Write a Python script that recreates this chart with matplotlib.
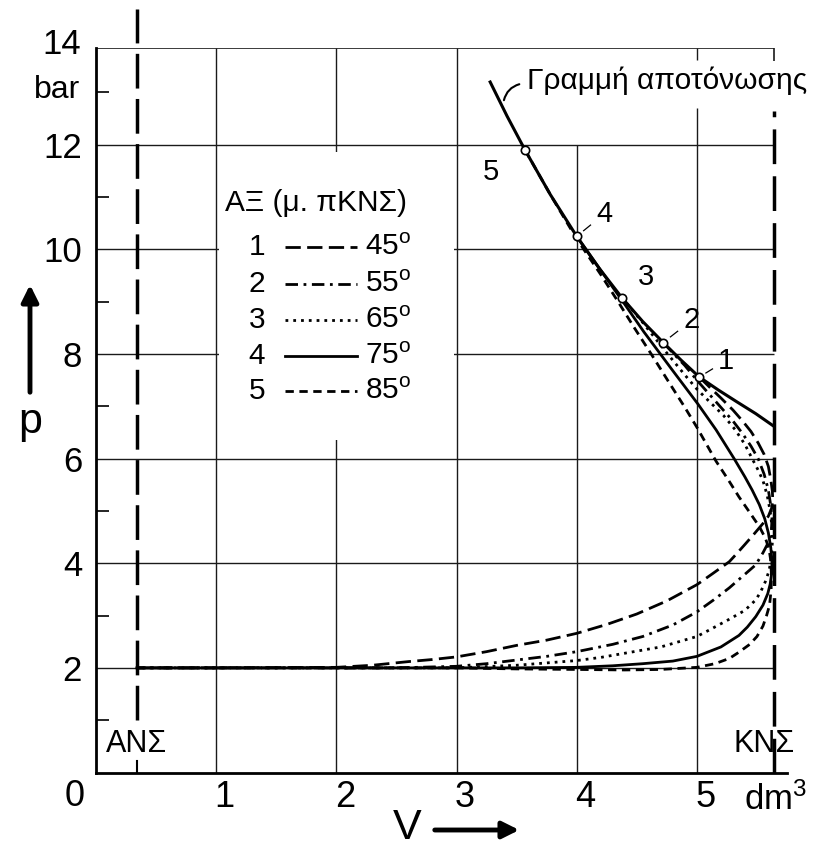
import matplotlib
matplotlib.use('Agg')
import matplotlib.pyplot as plt
from matplotlib.patches import Rectangle

plt.rcParams['font.family'] = ['Liberation Sans', 'DejaVu Sans']
plt.rcParams['mathtext.fontset'] = 'custom'
plt.rcParams['mathtext.rm'] = 'Liberation Sans'
plt.rcParams['mathtext.it'] = 'Liberation Sans'

# ---------------- data ----------------
x_ticks = [1, 2, 3, 4, 5]
x_labels = ['1', '2', '3', '4', '5']
y_ticks = [2, 4, 6, 8, 10, 12]
y_labels = ['2', '4', '6', '8', '10', '12']
y_minor = [1, 3, 5, 7, 9, 11, 13]
V_ANS = 0.34
V_KNS = 5.645
P_TOP = 13.85

angles = ['45', '55', '65', '75', '85']
curve_ids = ['1', '2', '3', '4', '5']

# expansion line (Γραμμή αποτόνωσης)
exp_V = [3.28, 3.42, 3.57, 3.78, 4.0, 4.19, 4.375, 4.55, 4.72, 4.87, 5.02, 5.18, 5.33, 5.49, 5.64]
exp_p = [13.2, 12.55, 11.9, 11.05, 10.25, 9.63, 9.08, 8.62, 8.22, 7.88, 7.56, 7.31, 7.09, 6.86, 6.62]

# exhaust-opening points on the expansion line (1..5)
open_V = [5.02, 4.72, 4.375, 4.0, 3.57]
open_p = [7.56, 8.22, 9.08, 10.25, 11.9]

# curve 1 : 45°
c1_V = [5.02, 5.1, 5.2, 5.3, 5.38, 5.45, 5.51, 5.56, 5.595, 5.615, 5.628, 5.632, 5.622, 5.595,
        5.55, 5.48, 5.4, 5.33, 5.27, 5.13, 5.0, 4.75, 4.5, 4.25, 4.0, 3.75, 3.5, 3.25, 3.0,
        2.8, 2.6, 2.3, 2.0, 1.0, 0.34]
c1_p = [7.56, 7.38, 7.16, 6.93, 6.72, 6.52, 6.3, 6.08, 5.85, 5.6, 5.38, 5.2, 5.05, 4.9,
        4.76, 4.57, 4.36, 4.18, 4.03, 3.8, 3.59, 3.28, 3.03, 2.83, 2.66, 2.53, 2.43, 2.31, 2.21,
        2.16, 2.12, 2.05, 2.01, 2.0, 2.0]
# curve 2 : 55°
c2_V = [4.72, 4.8, 4.9, 5.0, 5.1, 5.2, 5.3, 5.38, 5.45, 5.51, 5.56, 5.595, 5.615, 5.625,
        5.62, 5.6, 5.55, 5.49, 5.38, 5.27, 5.14, 5.0, 4.8, 4.55, 4.3, 4.0, 3.75, 3.5, 3.25,
        3.0, 2.5, 2.0, 1.0, 0.34]
c2_p = [8.22, 8.02, 7.78, 7.5, 7.24, 6.98, 6.72, 6.48, 6.24, 6.0, 5.7, 5.4, 5.1, 4.85,
        4.62, 4.42, 4.2, 3.97, 3.75, 3.53, 3.3, 3.07, 2.82, 2.6, 2.45, 2.31, 2.22, 2.15, 2.08,
        2.03, 2.0, 2.0, 2.0, 2.0]
# curve 3 : 65°
c3_V = [4.375, 4.55, 4.75, 4.9, 5.0, 5.1, 5.22, 5.32, 5.4, 5.46, 5.51, 5.55, 5.585, 5.61,
        5.625, 5.628, 5.62, 5.6, 5.57, 5.53, 5.49, 5.4, 5.27, 5.1, 5.0, 4.7, 4.45, 4.2, 4.0,
        3.5, 3.0, 2.0, 1.0, 0.34]
c3_p = [9.08, 8.6, 8.02, 7.6, 7.33, 7.1, 6.83, 6.55, 6.27, 6.0, 5.78, 5.58, 5.3, 5.0,
        4.7, 4.4, 4.1, 3.85, 3.65, 3.45, 3.3, 3.1, 2.93, 2.72, 2.6, 2.4, 2.3, 2.2, 2.14,
        2.05, 2.0, 2.0, 2.0, 2.0]
# curve 4 : 75°
c4_V = [4.0, 4.2, 4.4, 4.56, 4.8, 5.01, 5.16, 5.31, 5.4, 5.46, 5.52, 5.565, 5.595, 5.615,
        5.625, 5.622, 5.61, 5.59, 5.55, 5.49, 5.42, 5.35, 5.2, 5.0, 4.8, 4.55, 4.3, 4.0, 3.5,
        3.0, 2.0, 1.0, 0.34]
c4_p = [10.25, 9.6, 8.95, 8.42, 7.68, 7.04, 6.55, 6.0, 5.65, 5.4, 5.12, 4.85, 4.58, 4.3,
        4.05, 3.8, 3.6, 3.42, 3.2, 2.98, 2.78, 2.62, 2.4, 2.22, 2.13, 2.08, 2.04, 2.01, 2.0,
        2.0, 2.0, 2.0, 2.0]
# curve 5 : 85°
c5_V = [3.57, 3.78, 4.0, 4.2, 4.35, 4.48, 4.62, 4.77, 4.9, 5.0, 5.16, 5.26, 5.35, 5.44,
        5.52, 5.57, 5.6, 5.615, 5.62, 5.618, 5.605, 5.58, 5.55, 5.5, 5.44, 5.35, 5.27, 5.15,
        5.0, 4.7, 4.4, 4.0, 3.5, 3.0, 2.0, 1.0, 0.34]
c5_p = [11.9, 11.05, 10.2, 9.52, 8.98, 8.5, 8.0, 7.45, 6.98, 6.6, 5.95, 5.6, 5.27, 4.97,
        4.7, 4.48, 4.28, 4.05, 3.8, 3.5, 3.2, 3.0, 2.8, 2.6, 2.45, 2.3, 2.18, 2.08,
        2.01, 1.97, 1.96, 1.97, 1.98, 2.0, 2.0, 2.0, 2.0]

# label positions of curve numbers near the opening points
lab_V = [5.24, 4.96, 4.58, 4.23, 3.29]
lab_p = [7.87, 8.65, 9.47, 10.68, 11.48]

# ---------------- figure ----------------
W, H = 827, 849
fig = plt.figure(figsize=(W / 100, H / 100), dpi=100)
x0, x1, y0, y1 = 96, 787, 772.5, 48
ax = fig.add_axes([x0 / W, (H - y0) / H, (x1 - x0) / W, (y0 - y1) / H])
ax.set_xlim(0, 5.75)
ax.set_ylim(0, P_TOP)

for s in ['top', 'right']:
    ax.spines[s].set_visible(False)
for s in ['left', 'bottom']:
    ax.spines[s].set_linewidth(2.0)

ax.set_xticks([])
ax.set_yticks(y_ticks, y_labels, fontsize=25)
ax.set_yticks(y_minor, minor=True)
ax.tick_params(axis='y', which='major', length=0, pad=10)
ax.tick_params(axis='y', which='minor', direction='in', length=9, width=1.2)

gc = '#1a1a1a'
ax.hlines(y_ticks, 0, V_KNS, color=gc, lw=1.0, zorder=1)
ax.hlines([P_TOP], 0, V_KNS, color=gc, lw=1.2, zorder=1)
ax.vlines([1, 2, 3], 0, P_TOP, color=gc, lw=1.0, zorder=1)
ax.vlines([4], 0, 12, color=gc, lw=1.0, zorder=1)
ax.vlines([5], 0, 12.7, color=gc, lw=1.0, zorder=1)
ax.vlines([5], 13.62, P_TOP, color=gc, lw=1.0, zorder=1)
ax.vlines([V_KNS], 13.6, P_TOP, color=gc, lw=1.2, zorder=1)

# dead-centre lines
ax.plot([V_ANS, V_ANS], [1.0, 14.6], color='k', lw=2.5, ls=(0, (10, 3)), clip_on=False, zorder=3)
ax.plot([V_ANS, V_ANS], [0, 0.22], color='k', lw=1.5, zorder=3)
ax.plot([V_KNS, V_KNS], [0.0, 12.65], color='k', lw=2.5, ls=(0, (10, 3.5)), zorder=3)
ax.text(V_ANS, 0.55, 'ΑΝΣ', fontsize=22, ha='center', va='center')
ax.text(5.56, 0.55, 'ΚΝΣ', fontsize=22, ha='center', va='center')

# legend box
ax.add_patch(Rectangle((1.02, 6.35), 1.96, 5.52, facecolor='white', edgecolor='none', zorder=2))

styles = [(0, (5.5, 2.3)), (0, (4.5, 2.0, 1.0, 2.0)), (0, (1.0, 1.8)), '-', (0, (3.0, 2.0))]
curves = [(c1_V, c1_p), (c2_V, c2_p), (c3_V, c3_p), (c4_V, c4_p), (c5_V, c5_p)]
lw_c = 2.0
for (cv, cp), st in zip(curves, styles):
    ax.plot(cv, cp, color='k', lw=lw_c, ls=st, zorder=4, solid_joinstyle='round')

ax.plot(exp_V, exp_p, color='k', lw=2.2, zorder=5)
ax.plot(open_V, open_p, 'o', ms=6, mfc='white', mec='k', mew=1.2, zorder=6)

for ov, op, lv, lp, cid in zip(open_V, open_p, lab_V, lab_p, curve_ids):
    ax.text(lv, lp, cid, fontsize=21, ha='center', va='center', zorder=7)
for i in [0, 1, 3]:
    dv, dp = lab_V[i] - open_V[i], lab_p[i] - open_p[i]
    ax.plot([open_V[i] + 0.25 * dv, open_V[i] + 0.5 * dv],
            [open_p[i] + 0.25 * dp, open_p[i] + 0.5 * dp], color='k', lw=0.9, zorder=6)

# annotation of the expansion line
ax.annotate('', xy=(3.39, 12.8), xytext=(3.545, 13.17),
            arrowprops=dict(arrowstyle='-', lw=1.5, color='k', connectionstyle='arc3,rad=0.35'))
ax.text(3.585, 13.22, 'Γραμμή αποτόνωσης', fontsize=21.5, ha='left', va='center', zorder=7)

# legend contents
leg_rows = [10.05, 9.34, 8.65, 7.96, 7.29]
ax.text(1.83, 10.89, 'ΑΞ (μ. πΚΝΣ)', fontsize=21.5, ha='center', va='center', zorder=7)
for cid, ang, st, ry in zip(curve_ids, angles, styles, leg_rows):
    ax.text(1.34, ry, cid, fontsize=21.5, ha='center', va='center', zorder=7)
    ax.plot([1.57, 2.17], [ry, ry], color='k', lw=lw_c, ls=st, zorder=7)
    ax.text(2.24, ry, ang + r'$^{\mathrm{o}}$', fontsize=21.5, ha='left', va='center', zorder=7)

# axis texts (figure pixel coordinates)
def fpx(x, y):
    return (x / W, 1 - y / H)

for xv, lab in zip(x_ticks, x_labels):
    ax.text(xv + 0.07, -0.48, lab, fontsize=26, ha='center', va='center')
fig.text(*fpx(75, 797), '0', fontsize=26, ha='center', va='center')
fig.text(*fpx(62, 45), '14', fontsize=25, ha='center', va='center')
fig.text(*fpx(57, 90), 'bar', fontsize=23, ha='center', va='center')
fig.text(*fpx(775, 800), 'dm$^{3}$', fontsize=25, ha='center', va='center')
fig.text(*fpx(30, 422), 'p', fontsize=31, ha='center', va='center')
fig.text(*fpx(407, 828), 'V', fontsize=31, ha='center', va='center')

ax.annotate('', xy=fpx(30, 282), xytext=fpx(30, 395), xycoords='figure fraction',
            textcoords='figure fraction',
            arrowprops=dict(arrowstyle='-|>', lw=3.5, color='k', mutation_scale=25))
ax.annotate('', xy=fpx(522, 830), xytext=fpx(432, 830), xycoords='figure fraction',
            textcoords='figure fraction',
            arrowprops=dict(arrowstyle='-|>', lw=3.5, color='k', mutation_scale=25))

fig.savefig('out.png', dpi=100)
